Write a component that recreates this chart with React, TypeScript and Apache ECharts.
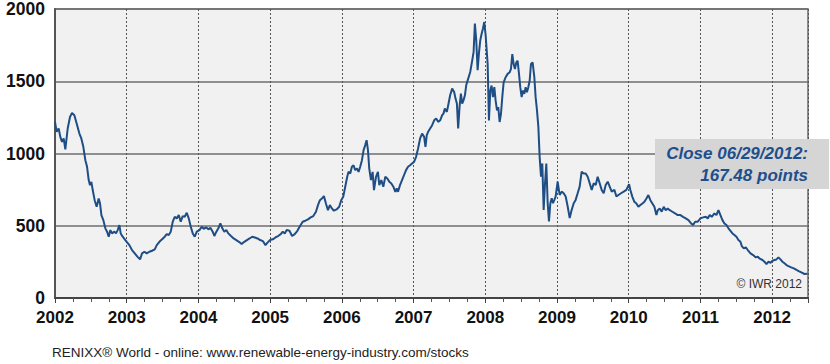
import React, { useEffect, useRef } from "react";
import * as echarts from "echarts";

// Decimal years and closing values of the RENIXX World index
const dates2002_2003: number[] = [
  2002.0, 2002.023, 2002.051, 2002.074, 2002.098, 2002.121, 2002.144, 2002.177, 2002.209, 2002.237,
  2002.27, 2002.302, 2002.34, 2002.367, 2002.395, 2002.423, 2002.447, 2002.47, 2002.488, 2002.507,
  2002.526, 2002.553, 2002.581, 2002.609, 2002.628, 2002.647, 2002.674, 2002.702, 2002.726, 2002.749,
  2002.772, 2002.795, 2002.828, 2002.851, 2002.874, 2002.898, 2002.916, 2002.944, 2002.981, 2003.0,
  2003.037, 2003.074, 2003.112, 2003.149, 2003.186, 2003.214, 2003.247, 2003.279, 2003.316, 2003.353,
  2003.391, 2003.419, 2003.456, 2003.493, 2003.53, 2003.558, 2003.586, 2003.614, 2003.642, 2003.67,
  2003.698, 2003.726, 2003.753, 2003.781, 2003.809, 2003.837, 2003.865, 2003.893, 2003.921, 2003.949,
  2003.977,
];
const values2002_2003: number[] = [
  1219, 1150, 1173, 1115, 1080, 1104, 1028, 1173, 1253, 1281,
  1265, 1207, 1138, 1104, 1046, 954, 908, 816, 781, 804,
  747, 677, 631, 689, 654, 574, 539, 482, 459, 424,
  470, 447, 459, 447, 470, 505, 447, 424, 401, 389,
  366, 332, 309, 286, 267, 309, 320, 309, 320, 327,
  336, 366, 389, 406, 424, 442, 436, 459, 528, 562,
  551, 574, 528, 567, 562, 590, 551, 493, 447, 424,
  459,
];

const dates2004_2005: number[] = [
  2004.014, 2004.046, 2004.074, 2004.106, 2004.139, 2004.167, 2004.199, 2004.222, 2004.25, 2004.278,
  2004.306, 2004.333, 2004.361, 2004.389, 2004.417, 2004.454, 2004.491, 2004.528, 2004.565, 2004.602,
  2004.639, 2004.676, 2004.713, 2004.75, 2004.787, 2004.824, 2004.861, 2004.898, 2004.935, 2004.963,
  2005.0, 2005.037, 2005.074, 2005.111, 2005.148, 2005.176, 2005.204, 2005.231, 2005.269, 2005.306,
  2005.343, 2005.38, 2005.417, 2005.454, 2005.491, 2005.528, 2005.565, 2005.602, 2005.639, 2005.667,
  2005.694, 2005.722, 2005.75, 2005.778, 2005.806, 2005.833, 2005.861, 2005.889, 2005.926, 2005.963,
  2005.991,
];
const values2004_2005: number[] = [
  470, 493, 479, 489, 475, 486, 459, 429, 459, 482,
  516, 482, 459, 470, 447, 429, 412, 401, 389, 373,
  389, 401, 412, 424, 419, 412, 401, 394, 366, 383,
  401, 406, 419, 429, 442, 459, 447, 470, 465, 429,
  442, 465, 498, 528, 535, 544, 558, 567, 597, 643,
  677, 689, 705, 654, 608, 643, 620, 604, 613, 631,
  677,
];

const dates2006_2007: number[] = [
  2006.019, 2006.047, 2006.075, 2006.093, 2006.117, 2006.14, 2006.163, 2006.186, 2006.21, 2006.233,
  2006.256, 2006.28, 2006.303, 2006.326, 2006.345, 2006.364, 2006.382, 2006.406, 2006.429, 2006.448,
  2006.476, 2006.503, 2006.522, 2006.55, 2006.578, 2006.606, 2006.634, 2006.662, 2006.69, 2006.718,
  2006.746, 2006.765, 2006.783, 2006.811, 2006.839, 2006.867, 2006.895, 2006.923, 2006.951, 2006.979,
  2007.007, 2007.035, 2007.063, 2007.091, 2007.119, 2007.147, 2007.166, 2007.184, 2007.203, 2007.231,
  2007.259, 2007.287, 2007.315, 2007.343, 2007.371, 2007.399, 2007.417, 2007.436, 2007.464, 2007.483,
  2007.51, 2007.538, 2007.566, 2007.585, 2007.604, 2007.622, 2007.641, 2007.66, 2007.678, 2007.697,
  2007.716, 2007.734, 2007.762, 2007.79, 2007.818, 2007.837, 2007.855, 2007.874, 2007.893, 2007.911,
  2007.93, 2007.949, 2007.967, 2007.986,
];
const values2006_2007: number[] = [
  700, 770, 839, 873, 862, 908, 919, 885, 896, 873,
  908, 954, 1023, 1058, 1092, 1023, 896, 816, 873, 747,
  839, 873, 781, 816, 770, 839, 827, 804, 793, 770,
  735, 758, 735, 781, 816, 850, 885, 908, 919, 931,
  942, 977, 1035, 1104, 1138, 1115, 1046, 1127, 1150, 1173,
  1196, 1230, 1242, 1219, 1230, 1265, 1276, 1311, 1288, 1334,
  1403, 1449, 1426, 1380, 1346, 1173, 1323, 1415, 1346, 1369,
  1403, 1472, 1518, 1564, 1645, 1703, 1899, 1783, 1576, 1691,
  1783, 1829, 1864, 1910,
];

const dates2008_2009: number[] = [
  2008.005, 2008.033, 2008.051, 2008.07, 2008.088, 2008.107, 2008.126, 2008.144, 2008.163, 2008.181,
  2008.2, 2008.219, 2008.237, 2008.256, 2008.284, 2008.312, 2008.34, 2008.358, 2008.377, 2008.395,
  2008.414, 2008.433, 2008.451, 2008.47, 2008.488, 2008.507, 2008.526, 2008.544, 2008.563, 2008.581,
  2008.6, 2008.619, 2008.637, 2008.66, 2008.684, 2008.702, 2008.721, 2008.74, 2008.758, 2008.777,
  2008.795, 2008.814, 2008.833, 2008.851, 2008.87, 2008.888, 2008.907, 2008.926, 2008.944, 2008.963,
  2008.981, 2009.009, 2009.037, 2009.065, 2009.093, 2009.121, 2009.149, 2009.177, 2009.205, 2009.233,
  2009.26, 2009.288, 2009.316, 2009.344, 2009.372, 2009.4, 2009.428, 2009.456, 2009.484, 2009.512,
  2009.54, 2009.567, 2009.595, 2009.623, 2009.651, 2009.679, 2009.707, 2009.735, 2009.763, 2009.8,
  2009.828, 2009.856, 2009.893, 2009.93, 2009.967,
];
const values2008_2009: number[] = [
  1818, 1619, 1229, 1436, 1470, 1390, 1459, 1367, 1298, 1321,
  1218, 1275, 1390, 1493, 1528, 1551, 1562, 1585, 1688, 1619,
  1585, 1631, 1642, 1551, 1459, 1390, 1436, 1413, 1459, 1424,
  1459, 1505, 1619, 1631, 1528, 1390, 1298, 1184, 977, 839,
  931, 610, 794, 931, 656, 530, 656, 690, 656, 679,
  702, 805, 713, 736, 725, 702, 633, 553, 610, 656,
  679, 725, 771, 874, 862, 862, 839, 794, 748, 794,
  782, 839, 794, 748, 725, 782, 805, 771, 736, 748,
  702, 713, 725, 736, 748,
];

const dates2010_2012: number[] = [
  2010.005, 2010.023, 2010.051, 2010.079, 2010.107, 2010.135, 2010.163, 2010.191, 2010.219, 2010.247,
  2010.274, 2010.302, 2010.33, 2010.358, 2010.386, 2010.405, 2010.433, 2010.46, 2010.488, 2010.516,
  2010.544, 2010.572, 2010.609, 2010.647, 2010.684, 2010.721, 2010.758, 2010.795, 2010.833, 2010.87,
  2010.898, 2010.926, 2010.963, 2011.0, 2011.037, 2011.074, 2011.102, 2011.13, 2011.158, 2011.195,
  2011.223, 2011.251, 2011.279, 2011.307, 2011.335, 2011.363, 2011.391, 2011.419, 2011.447, 2011.474,
  2011.502, 2011.53, 2011.558, 2011.577, 2011.605, 2011.633, 2011.66, 2011.698, 2011.735, 2011.772,
  2011.8, 2011.828, 2011.865, 2011.893, 2011.921, 2011.949, 2011.977, 2012.005, 2012.033, 2012.06,
  2012.088, 2012.116, 2012.144, 2012.172, 2012.2, 2012.228, 2012.265, 2012.302, 2012.34, 2012.377,
  2012.414, 2012.451, 2012.493,
];
const values2010_2012: number[] = [
  788, 747, 700, 666, 654, 631, 643, 654, 666, 689,
  712, 677, 654, 631, 574, 608, 620, 597, 631, 608,
  620, 608, 597, 585, 574, 574, 562, 551, 539, 516,
  505, 528, 528, 551, 558, 562, 551, 574, 562, 585,
  574, 608, 574, 539, 516, 505, 482, 465, 447, 436,
  424, 401, 389, 359, 343, 350, 332, 309, 297, 281,
  286, 272, 263, 251, 235, 251, 244, 258, 263, 267,
  281, 267, 251, 240, 228, 221, 212, 205, 194, 184,
  175, 166, 167.48,
];

const yTicks: number[] = [0, 500, 1000, 1500, 2000];
const xYears: number[] = [2002, 2003, 2004, 2005, 2006, 2007, 2008, 2009, 2010, 2011, 2012];

const closeLine1 = "Close 06/29/2012:";
const closeLine2 = "167.48 points";
const copyright = "© IWR 2012";
const footer = "RENIXX® World - online: www.renewable-energy-industry.com/stocks";

export default function App() {
  const ref = useRef<HTMLDivElement>(null);
  useEffect(() => {
    if (!ref.current) return;
    const chart = echarts.init(ref.current, undefined, { renderer: "svg" });
    const allDates = [...dates2002_2003, ...dates2004_2005, ...dates2006_2007, ...dates2008_2009, ...dates2010_2012];
    const allValues = [...values2002_2003, ...values2004_2005, ...values2006_2007, ...values2008_2009, ...values2010_2012];
    const data = allDates.map((d, i) => [d, allValues[i]]);
    const font = "'Liberation Sans', Arial, Helvetica, sans-serif";
    chart.setOption({
      animation: false,
      backgroundColor: "#ffffff",
      grid: {
        left: 55,
        right: 22,
        top: 9,
        bottom: 66,
        show: true,
        backgroundColor: "#f1f1f1",
        borderColor: "#6a6a6a",
        borderWidth: 1.5,
      },
      xAxis: {
        type: "value",
        min: xYears[0],
        max: 2012.5,
        interval: 1,
        axisLine: { show: true, lineStyle: { color: "#444", width: 2 } },
        axisTick: { show: true, length: 5, lineStyle: { color: "#444" } },
        minorTick: { show: true, splitNumber: 4, length: 4, lineStyle: { color: "#555" } },
        axisLabel: {
          margin: 11,
          fontFamily: font,
          fontWeight: "bold",
          fontSize: 17,
          color: "#111",
          formatter: (v: number) => (xYears.includes(v) ? String(v) : ""),
        },
        splitLine: { show: true, lineStyle: { color: "#555", width: 1, type: [2, 2] } },
      },
      yAxis: {
        type: "value",
        min: yTicks[0],
        max: yTicks[yTicks.length - 1],
        interval: 500,
        axisLine: { show: true, lineStyle: { color: "#555", width: 2 } },
        axisTick: { show: false },
        axisLabel: {
          margin: 10,
          fontFamily: font,
          fontWeight: "bold",
          fontSize: 17.5,
          color: "#111",
          formatter: (v: number) => String(v),
        },
        splitLine: { show: true, lineStyle: { color: "#6e6e6e", width: 1.5 } },
      },
      series: [
        {
          type: "line",
          data,
          showSymbol: false,
          symbol: "none",
          lineStyle: { color: "#1f4e85", width: 2 },
          z: 3,
        },
      ],
      graphic: [
        {
          type: "rect",
          z: 100,
          shape: { x: 655, y: 139, width: 174, height: 50 },
          style: { fill: "#d5d5d5" },
        },
        {
          type: "text",
          z: 101,
          x: 808,
          y: 153,
          style: {
            text: closeLine1,
            fill: "#1d4f8c",
            font: "italic bold 17px 'Liberation Sans', Arial, sans-serif",
            align: "right",
            verticalAlign: "middle",
          },
        },
        {
          type: "text",
          z: 101,
          x: 808,
          y: 175,
          style: {
            text: closeLine2,
            fill: "#1d4f8c",
            font: "italic bold 17px 'Liberation Sans', Arial, sans-serif",
            align: "right",
            verticalAlign: "middle",
          },
        },
        {
          type: "text",
          z: 101,
          x: 802,
          y: 284,
          style: {
            text: copyright,
            fill: "#333",
            font: "12px 'Liberation Sans', Arial, sans-serif",
            align: "right",
            verticalAlign: "middle",
          },
        },
        {
          type: "text",
          z: 101,
          x: 52,
          y: 352,
          style: {
            text: footer,
            fill: "#222",
            font: "13.5px 'Liberation Sans', Arial, sans-serif",
            align: "left",
            verticalAlign: "middle",
          },
        },
      ],
    });
    return () => chart.dispose();
  }, []);
  return (
    <div
      ref={ref}
      style={{ position: "fixed", left: 0, top: 0, width: 830, height: 364 }}
    />
  );
}
